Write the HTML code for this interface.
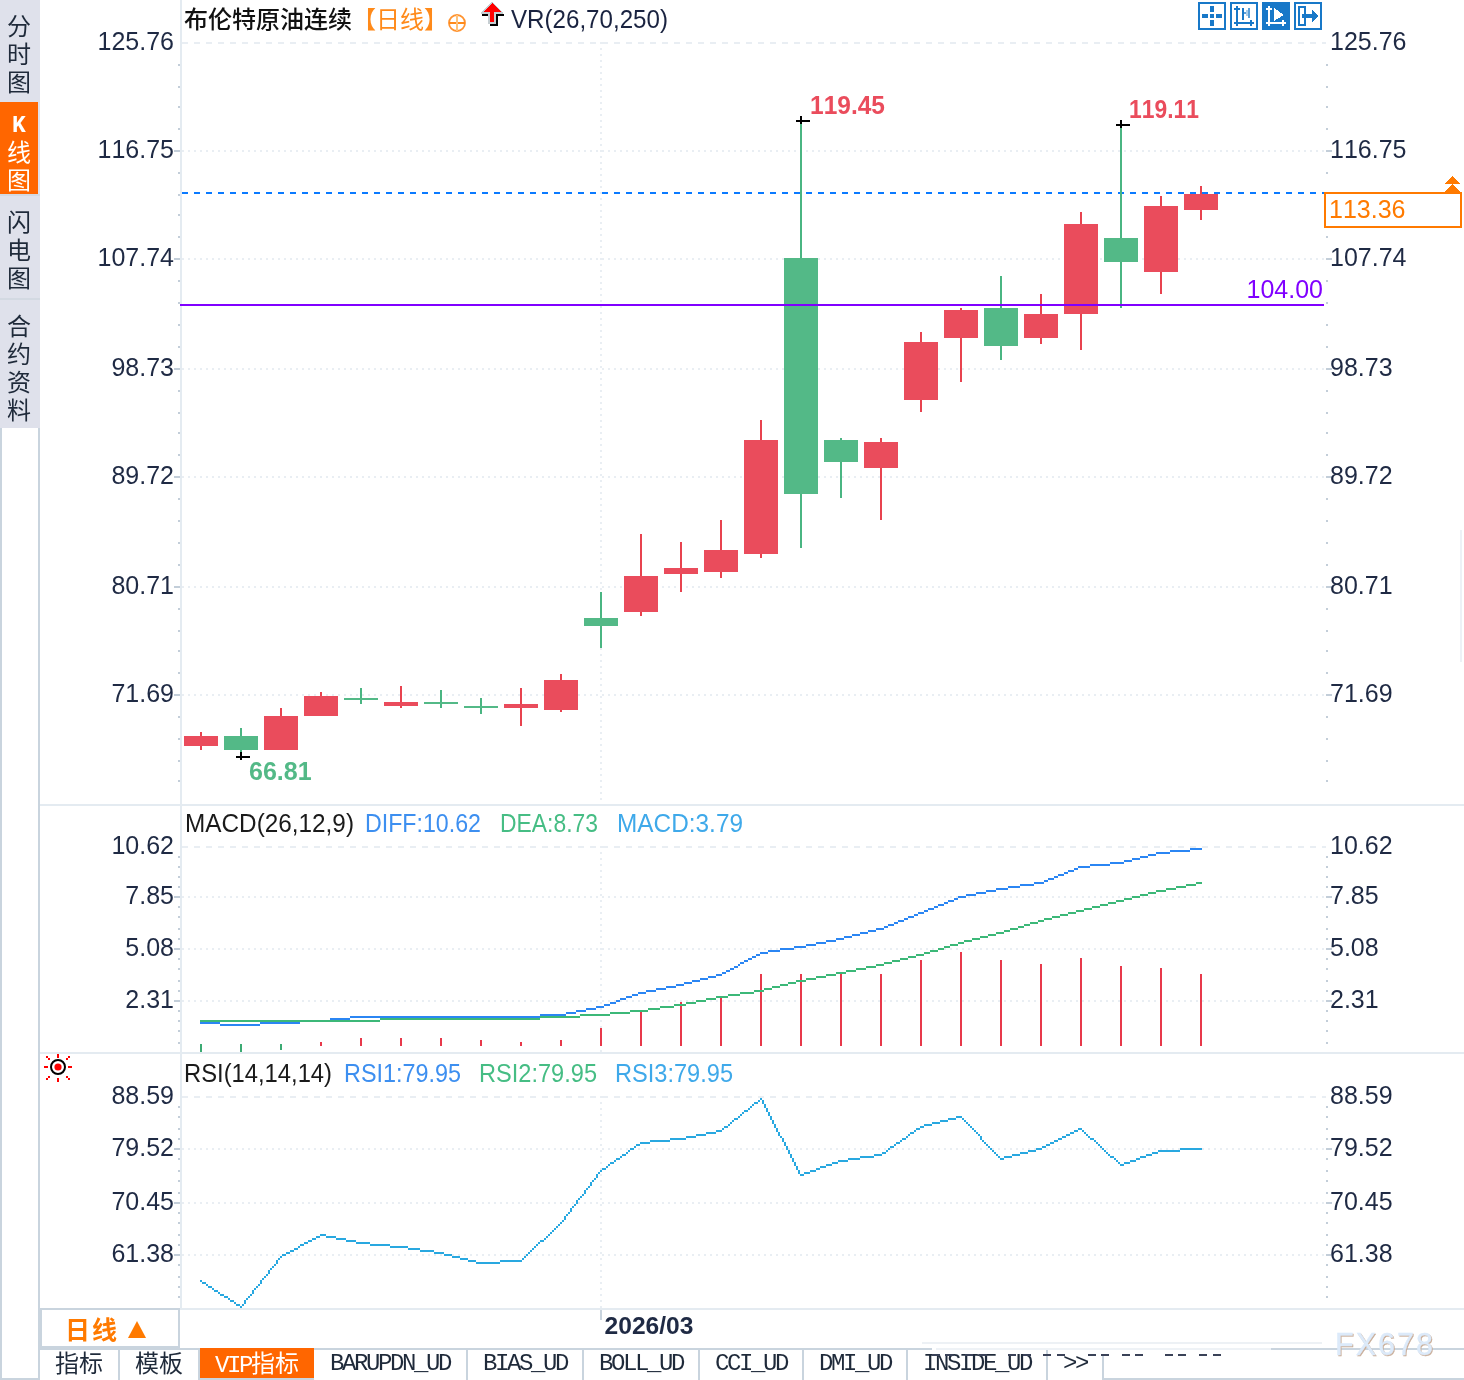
<!DOCTYPE html>
<html lang="zh-CN">
<head>
<meta charset="utf-8">
<title>布伦特原油连续 日线</title>
<style>
html,body{margin:0;padding:0;}
body{width:1464px;height:1380px;position:relative;overflow:hidden;background:#fff;
 font-family:"Liberation Sans","Noto Sans CJK SC",sans-serif;color:#1f2a44;}
#side{position:absolute;left:0;top:0;width:40px;height:1380px;}
#side .grey{position:absolute;left:0;top:0;width:40px;height:428px;background:#dfe1eb;}
#side .blank{position:absolute;left:0;top:428px;width:36px;height:950px;border:2px solid #c9d4de;border-top:none;background:#fff;}
#side .item{position:absolute;left:0;width:38px;text-align:center;font-size:24px;line-height:28px;color:#1f2a3a;}
#side .item span{display:block;height:28px;}
#side .sel{background:#ff6600;color:#fff;}
#side .hr{position:absolute;left:0;width:40px;height:2px;background:#d3d9e2;}
#chart{position:absolute;left:0;top:0;}
#chart text{font-family:"Liberation Sans","Noto Sans CJK SC",sans-serif;font-kerning:none;}
#period{position:absolute;left:40px;top:1308px;width:136px;height:36px;border:2px solid #c9d4de;background:#fff;
 color:#ff7a00;font-weight:bold;font-size:25px;line-height:36px;}
#period .t{position:absolute;left:23px;top:2px;letter-spacing:2px;}
#period .tri{position:absolute;left:86px;top:11px;width:0;height:0;border-left:9px solid transparent;border-right:9px solid transparent;border-bottom:17px solid #ff7a00;}
#tabs{position:absolute;left:40px;top:1348px;height:32px;width:1424px;border-top:2px solid #c9d4de;box-sizing:border-box;}
#tabs .tab{position:absolute;top:0;height:30px;box-sizing:border-box;border-right:2px solid #c9d4de;
 font-size:24px;line-height:28px;text-align:center;color:#1f2a3a;white-space:nowrap;}
#tabs .mono{font-family:"Liberation Mono","Noto Sans CJK SC",monospace;font-size:24px;letter-spacing:-2.4px;line-height:28px;}
#tabs .on{background:#ff6600;color:#fff;top:-2px;height:31px;border-right:none;line-height:32px;}
#tabs .box{position:absolute;left:1062px;top:4px;width:364px;height:24px;border-left:2px solid #c9d4de;border-bottom:2px solid #c9d4de;}
#tabs .bl{position:absolute;left:160px;top:28px;width:114px;height:2px;background:#c9d4de;}
</style>
</head>
<body>
<div id="side">
  <div class="grey"></div>
  <div class="item" style="top:13px"><span>分</span><span>时</span><span>图</span></div>
  <div class="item sel" style="top:102px;height:92px;"><span style="height:10px"></span><span style="font-family:'Liberation Mono',monospace;font-weight:bold;font-size:23px;height:27px">K</span><span>线</span><span>图</span></div>
  <div class="hr" style="top:194px"></div>
  <div class="item" style="top:209px"><span>闪</span><span>电</span><span>图</span></div>
  <div class="hr" style="top:298px"></div>
  <div class="item" style="top:313px"><span>合</span><span>约</span><span>资</span><span>料</span></div>
  <div class="blank"></div>
</div>
<svg id="chart" width="1464" height="1380" viewBox="0 0 1464 1380">
<g shape-rendering="crispEdges">
<rect x="180" y="0" width="2" height="1309" fill="#e4ebf1"/>
<rect x="40" y="804" width="1424" height="2" fill="#e4ebf1"/>
<rect x="40" y="1052" width="1424" height="2" fill="#e4ebf1"/>
<rect x="180" y="1308" width="1284" height="2" fill="#e4ebf1"/>
<rect x="922" y="1342" width="400" height="2" fill="#edf1f5"/>
<rect x="1460" y="530" width="2" height="132" fill="#edf1f6"/>
<line x1="182" y1="43" x2="1326" y2="43" stroke="#e9eef3" stroke-width="2" stroke-dasharray="6 6"/>
<line x1="182" y1="151" x2="1326" y2="151" stroke="#e9eef3" stroke-width="2" stroke-dasharray="2 4"/>
<line x1="182" y1="259" x2="1326" y2="259" stroke="#e9eef3" stroke-width="2" stroke-dasharray="2 4"/>
<line x1="182" y1="369" x2="1326" y2="369" stroke="#e9eef3" stroke-width="2" stroke-dasharray="2 4"/>
<line x1="182" y1="477" x2="1326" y2="477" stroke="#e9eef3" stroke-width="2" stroke-dasharray="2 4"/>
<line x1="182" y1="587" x2="1326" y2="587" stroke="#e9eef3" stroke-width="2" stroke-dasharray="2 4"/>
<line x1="182" y1="695" x2="1326" y2="695" stroke="#e9eef3" stroke-width="2" stroke-dasharray="2 4"/>
<line x1="182" y1="847" x2="1326" y2="847" stroke="#e9eef3" stroke-width="2" stroke-dasharray="6 6"/>
<line x1="182" y1="897" x2="1326" y2="897" stroke="#e9eef3" stroke-width="2" stroke-dasharray="2 4"/>
<line x1="182" y1="949" x2="1326" y2="949" stroke="#e9eef3" stroke-width="2" stroke-dasharray="2 4"/>
<line x1="182" y1="1001" x2="1326" y2="1001" stroke="#e9eef3" stroke-width="2" stroke-dasharray="2 4"/>
<line x1="182" y1="1097" x2="1326" y2="1097" stroke="#e9eef3" stroke-width="2" stroke-dasharray="6 6"/>
<line x1="182" y1="1149" x2="1326" y2="1149" stroke="#e9eef3" stroke-width="2" stroke-dasharray="2 4"/>
<line x1="182" y1="1203" x2="1326" y2="1203" stroke="#e9eef3" stroke-width="2" stroke-dasharray="2 4"/>
<line x1="182" y1="1255" x2="1326" y2="1255" stroke="#e9eef3" stroke-width="2" stroke-dasharray="2 4"/>
<line x1="601" y1="42" x2="601" y2="802" stroke="#e9eef3" stroke-width="2" stroke-dasharray="2 4"/>
<line x1="601" y1="846" x2="601" y2="1052" stroke="#e9eef3" stroke-width="2" stroke-dasharray="2 4"/>
<line x1="601" y1="1096" x2="601" y2="1308" stroke="#e9eef3" stroke-width="2" stroke-dasharray="2 4"/>
<rect x="600" y="1310" width="2" height="10" fill="#c9d4de"/>
<rect x="178" y="64" width="2" height="2" fill="#c3ced9"/>
<rect x="1326" y="64" width="2" height="2" fill="#c3ced9"/>
<rect x="178" y="86" width="2" height="2" fill="#c3ced9"/>
<rect x="1326" y="86" width="2" height="2" fill="#c3ced9"/>
<rect x="178" y="106" width="2" height="2" fill="#c3ced9"/>
<rect x="1326" y="106" width="2" height="2" fill="#c3ced9"/>
<rect x="178" y="128" width="2" height="2" fill="#c3ced9"/>
<rect x="1326" y="128" width="2" height="2" fill="#c3ced9"/>
<rect x="178" y="172" width="2" height="2" fill="#c3ced9"/>
<rect x="1326" y="172" width="2" height="2" fill="#c3ced9"/>
<rect x="178" y="194" width="2" height="2" fill="#c3ced9"/>
<rect x="1326" y="194" width="2" height="2" fill="#c3ced9"/>
<rect x="178" y="214" width="2" height="2" fill="#c3ced9"/>
<rect x="1326" y="214" width="2" height="2" fill="#c3ced9"/>
<rect x="178" y="236" width="2" height="2" fill="#c3ced9"/>
<rect x="1326" y="236" width="2" height="2" fill="#c3ced9"/>
<rect x="178" y="280" width="2" height="2" fill="#c3ced9"/>
<rect x="1326" y="280" width="2" height="2" fill="#c3ced9"/>
<rect x="178" y="302" width="2" height="2" fill="#c3ced9"/>
<rect x="1326" y="302" width="2" height="2" fill="#c3ced9"/>
<rect x="178" y="324" width="2" height="2" fill="#c3ced9"/>
<rect x="1326" y="324" width="2" height="2" fill="#c3ced9"/>
<rect x="178" y="346" width="2" height="2" fill="#c3ced9"/>
<rect x="1326" y="346" width="2" height="2" fill="#c3ced9"/>
<rect x="178" y="390" width="2" height="2" fill="#c3ced9"/>
<rect x="1326" y="390" width="2" height="2" fill="#c3ced9"/>
<rect x="178" y="412" width="2" height="2" fill="#c3ced9"/>
<rect x="1326" y="412" width="2" height="2" fill="#c3ced9"/>
<rect x="178" y="432" width="2" height="2" fill="#c3ced9"/>
<rect x="1326" y="432" width="2" height="2" fill="#c3ced9"/>
<rect x="178" y="454" width="2" height="2" fill="#c3ced9"/>
<rect x="1326" y="454" width="2" height="2" fill="#c3ced9"/>
<rect x="178" y="498" width="2" height="2" fill="#c3ced9"/>
<rect x="1326" y="498" width="2" height="2" fill="#c3ced9"/>
<rect x="178" y="520" width="2" height="2" fill="#c3ced9"/>
<rect x="1326" y="520" width="2" height="2" fill="#c3ced9"/>
<rect x="178" y="542" width="2" height="2" fill="#c3ced9"/>
<rect x="1326" y="542" width="2" height="2" fill="#c3ced9"/>
<rect x="178" y="564" width="2" height="2" fill="#c3ced9"/>
<rect x="1326" y="564" width="2" height="2" fill="#c3ced9"/>
<rect x="178" y="608" width="2" height="2" fill="#c3ced9"/>
<rect x="1326" y="608" width="2" height="2" fill="#c3ced9"/>
<rect x="178" y="630" width="2" height="2" fill="#c3ced9"/>
<rect x="1326" y="630" width="2" height="2" fill="#c3ced9"/>
<rect x="178" y="650" width="2" height="2" fill="#c3ced9"/>
<rect x="1326" y="650" width="2" height="2" fill="#c3ced9"/>
<rect x="178" y="672" width="2" height="2" fill="#c3ced9"/>
<rect x="1326" y="672" width="2" height="2" fill="#c3ced9"/>
<rect x="178" y="716" width="2" height="2" fill="#c3ced9"/>
<rect x="1326" y="716" width="2" height="2" fill="#c3ced9"/>
<rect x="178" y="738" width="2" height="2" fill="#c3ced9"/>
<rect x="1326" y="738" width="2" height="2" fill="#c3ced9"/>
<rect x="178" y="760" width="2" height="2" fill="#c3ced9"/>
<rect x="1326" y="760" width="2" height="2" fill="#c3ced9"/>
<rect x="178" y="780" width="2" height="2" fill="#c3ced9"/>
<rect x="1326" y="780" width="2" height="2" fill="#c3ced9"/>
<rect x="174" y="150" width="6" height="2" fill="#c3ced9"/>
<rect x="1326" y="150" width="6" height="2" fill="#c3ced9"/>
<rect x="174" y="258" width="6" height="2" fill="#c3ced9"/>
<rect x="1326" y="258" width="6" height="2" fill="#c3ced9"/>
<rect x="174" y="368" width="6" height="2" fill="#c3ced9"/>
<rect x="1326" y="368" width="6" height="2" fill="#c3ced9"/>
<rect x="174" y="476" width="6" height="2" fill="#c3ced9"/>
<rect x="1326" y="476" width="6" height="2" fill="#c3ced9"/>
<rect x="174" y="586" width="6" height="2" fill="#c3ced9"/>
<rect x="1326" y="586" width="6" height="2" fill="#c3ced9"/>
<rect x="174" y="694" width="6" height="2" fill="#c3ced9"/>
<rect x="1326" y="694" width="6" height="2" fill="#c3ced9"/>
<rect x="178" y="856" width="2" height="2" fill="#c3ced9"/>
<rect x="1326" y="856" width="2" height="2" fill="#c3ced9"/>
<rect x="178" y="866" width="2" height="2" fill="#c3ced9"/>
<rect x="1326" y="866" width="2" height="2" fill="#c3ced9"/>
<rect x="178" y="876" width="2" height="2" fill="#c3ced9"/>
<rect x="1326" y="876" width="2" height="2" fill="#c3ced9"/>
<rect x="178" y="886" width="2" height="2" fill="#c3ced9"/>
<rect x="1326" y="886" width="2" height="2" fill="#c3ced9"/>
<rect x="178" y="906" width="2" height="2" fill="#c3ced9"/>
<rect x="1326" y="906" width="2" height="2" fill="#c3ced9"/>
<rect x="178" y="916" width="2" height="2" fill="#c3ced9"/>
<rect x="1326" y="916" width="2" height="2" fill="#c3ced9"/>
<rect x="178" y="928" width="2" height="2" fill="#c3ced9"/>
<rect x="1326" y="928" width="2" height="2" fill="#c3ced9"/>
<rect x="178" y="938" width="2" height="2" fill="#c3ced9"/>
<rect x="1326" y="938" width="2" height="2" fill="#c3ced9"/>
<rect x="178" y="958" width="2" height="2" fill="#c3ced9"/>
<rect x="1326" y="958" width="2" height="2" fill="#c3ced9"/>
<rect x="178" y="968" width="2" height="2" fill="#c3ced9"/>
<rect x="1326" y="968" width="2" height="2" fill="#c3ced9"/>
<rect x="178" y="980" width="2" height="2" fill="#c3ced9"/>
<rect x="1326" y="980" width="2" height="2" fill="#c3ced9"/>
<rect x="178" y="990" width="2" height="2" fill="#c3ced9"/>
<rect x="1326" y="990" width="2" height="2" fill="#c3ced9"/>
<rect x="178" y="1010" width="2" height="2" fill="#c3ced9"/>
<rect x="1326" y="1010" width="2" height="2" fill="#c3ced9"/>
<rect x="178" y="1020" width="2" height="2" fill="#c3ced9"/>
<rect x="1326" y="1020" width="2" height="2" fill="#c3ced9"/>
<rect x="178" y="1030" width="2" height="2" fill="#c3ced9"/>
<rect x="1326" y="1030" width="2" height="2" fill="#c3ced9"/>
<rect x="178" y="1042" width="2" height="2" fill="#c3ced9"/>
<rect x="1326" y="1042" width="2" height="2" fill="#c3ced9"/>
<rect x="174" y="896" width="6" height="2" fill="#c3ced9"/>
<rect x="1326" y="896" width="6" height="2" fill="#c3ced9"/>
<rect x="174" y="948" width="6" height="2" fill="#c3ced9"/>
<rect x="1326" y="948" width="6" height="2" fill="#c3ced9"/>
<rect x="174" y="1000" width="6" height="2" fill="#c3ced9"/>
<rect x="1326" y="1000" width="6" height="2" fill="#c3ced9"/>
<rect x="178" y="1106" width="2" height="2" fill="#c3ced9"/>
<rect x="1326" y="1106" width="2" height="2" fill="#c3ced9"/>
<rect x="178" y="1116" width="2" height="2" fill="#c3ced9"/>
<rect x="1326" y="1116" width="2" height="2" fill="#c3ced9"/>
<rect x="178" y="1128" width="2" height="2" fill="#c3ced9"/>
<rect x="1326" y="1128" width="2" height="2" fill="#c3ced9"/>
<rect x="178" y="1138" width="2" height="2" fill="#c3ced9"/>
<rect x="1326" y="1138" width="2" height="2" fill="#c3ced9"/>
<rect x="178" y="1158" width="2" height="2" fill="#c3ced9"/>
<rect x="1326" y="1158" width="2" height="2" fill="#c3ced9"/>
<rect x="178" y="1170" width="2" height="2" fill="#c3ced9"/>
<rect x="1326" y="1170" width="2" height="2" fill="#c3ced9"/>
<rect x="178" y="1180" width="2" height="2" fill="#c3ced9"/>
<rect x="1326" y="1180" width="2" height="2" fill="#c3ced9"/>
<rect x="178" y="1192" width="2" height="2" fill="#c3ced9"/>
<rect x="1326" y="1192" width="2" height="2" fill="#c3ced9"/>
<rect x="178" y="1212" width="2" height="2" fill="#c3ced9"/>
<rect x="1326" y="1212" width="2" height="2" fill="#c3ced9"/>
<rect x="178" y="1222" width="2" height="2" fill="#c3ced9"/>
<rect x="1326" y="1222" width="2" height="2" fill="#c3ced9"/>
<rect x="178" y="1234" width="2" height="2" fill="#c3ced9"/>
<rect x="1326" y="1234" width="2" height="2" fill="#c3ced9"/>
<rect x="178" y="1244" width="2" height="2" fill="#c3ced9"/>
<rect x="1326" y="1244" width="2" height="2" fill="#c3ced9"/>
<rect x="178" y="1264" width="2" height="2" fill="#c3ced9"/>
<rect x="1326" y="1264" width="2" height="2" fill="#c3ced9"/>
<rect x="178" y="1276" width="2" height="2" fill="#c3ced9"/>
<rect x="1326" y="1276" width="2" height="2" fill="#c3ced9"/>
<rect x="178" y="1286" width="2" height="2" fill="#c3ced9"/>
<rect x="1326" y="1286" width="2" height="2" fill="#c3ced9"/>
<rect x="178" y="1296" width="2" height="2" fill="#c3ced9"/>
<rect x="1326" y="1296" width="2" height="2" fill="#c3ced9"/>
<rect x="174" y="1148" width="6" height="2" fill="#c3ced9"/>
<rect x="1326" y="1148" width="6" height="2" fill="#c3ced9"/>
<rect x="174" y="1202" width="6" height="2" fill="#c3ced9"/>
<rect x="1326" y="1202" width="6" height="2" fill="#c3ced9"/>
<rect x="174" y="1254" width="6" height="2" fill="#c3ced9"/>
<rect x="1326" y="1254" width="6" height="2" fill="#c3ced9"/>
<line x1="182" y1="193" x2="1324" y2="193" stroke="#0a7aff" stroke-width="2" stroke-dasharray="6 6"/>
<rect x="200" y="732" width="2" height="18" fill="#e8434f"/>
<rect x="184" y="736" width="34" height="10" fill="#ea4c5c"/>
<rect x="240" y="728" width="2" height="24" fill="#4ab582"/>
<rect x="224" y="736" width="34" height="14" fill="#53b987"/>
<rect x="280" y="708" width="2" height="42" fill="#e8434f"/>
<rect x="264" y="716" width="34" height="34" fill="#ea4c5c"/>
<rect x="320" y="692" width="2" height="24" fill="#e8434f"/>
<rect x="304" y="696" width="34" height="20" fill="#ea4c5c"/>
<rect x="360" y="688" width="2" height="16" fill="#4ab582"/>
<rect x="344" y="698" width="34" height="2" fill="#53b987"/>
<rect x="400" y="686" width="2" height="22" fill="#e8434f"/>
<rect x="384" y="702" width="34" height="4" fill="#ea4c5c"/>
<rect x="440" y="690" width="2" height="18" fill="#4ab582"/>
<rect x="424" y="702" width="34" height="2" fill="#53b987"/>
<rect x="480" y="698" width="2" height="16" fill="#4ab582"/>
<rect x="464" y="706" width="34" height="2" fill="#53b987"/>
<rect x="520" y="688" width="2" height="38" fill="#e8434f"/>
<rect x="504" y="704" width="34" height="4" fill="#ea4c5c"/>
<rect x="560" y="674" width="2" height="38" fill="#e8434f"/>
<rect x="544" y="680" width="34" height="30" fill="#ea4c5c"/>
<rect x="600" y="592" width="2" height="56" fill="#4ab582"/>
<rect x="584" y="618" width="34" height="8" fill="#53b987"/>
<rect x="640" y="534" width="2" height="82" fill="#e8434f"/>
<rect x="624" y="576" width="34" height="36" fill="#ea4c5c"/>
<rect x="680" y="542" width="2" height="50" fill="#e8434f"/>
<rect x="664" y="568" width="34" height="6" fill="#ea4c5c"/>
<rect x="720" y="520" width="2" height="58" fill="#e8434f"/>
<rect x="704" y="550" width="34" height="22" fill="#ea4c5c"/>
<rect x="760" y="420" width="2" height="138" fill="#e8434f"/>
<rect x="744" y="440" width="34" height="114" fill="#ea4c5c"/>
<rect x="800" y="122" width="2" height="426" fill="#4ab582"/>
<rect x="784" y="258" width="34" height="236" fill="#53b987"/>
<rect x="840" y="438" width="2" height="60" fill="#4ab582"/>
<rect x="824" y="440" width="34" height="22" fill="#53b987"/>
<rect x="880" y="438" width="2" height="82" fill="#e8434f"/>
<rect x="864" y="442" width="34" height="26" fill="#ea4c5c"/>
<rect x="920" y="332" width="2" height="80" fill="#e8434f"/>
<rect x="904" y="342" width="34" height="58" fill="#ea4c5c"/>
<rect x="960" y="308" width="2" height="74" fill="#e8434f"/>
<rect x="944" y="310" width="34" height="28" fill="#ea4c5c"/>
<rect x="1000" y="276" width="2" height="84" fill="#4ab582"/>
<rect x="984" y="308" width="34" height="38" fill="#53b987"/>
<rect x="1040" y="294" width="2" height="50" fill="#e8434f"/>
<rect x="1024" y="314" width="34" height="24" fill="#ea4c5c"/>
<rect x="1080" y="212" width="2" height="138" fill="#e8434f"/>
<rect x="1064" y="224" width="34" height="90" fill="#ea4c5c"/>
<rect x="1120" y="126" width="2" height="182" fill="#4ab582"/>
<rect x="1104" y="238" width="34" height="24" fill="#53b987"/>
<rect x="1160" y="196" width="2" height="98" fill="#e8434f"/>
<rect x="1144" y="206" width="34" height="66" fill="#ea4c5c"/>
<rect x="1200" y="186" width="2" height="34" fill="#e8434f"/>
<rect x="1184" y="194" width="34" height="16" fill="#ea4c5c"/>
<rect x="180" y="304" width="1144" height="2" fill="#8000ff"/>
<rect x="796" y="120" width="14" height="2" fill="#000"/>
<rect x="800" y="116" width="2" height="8" fill="#000"/>
<rect x="1116" y="124" width="14" height="2" fill="#000"/>
<rect x="1120" y="120" width="2" height="8" fill="#000"/>
<rect x="236" y="756" width="14" height="2" fill="#000"/>
<rect x="240" y="752" width="2" height="8" fill="#000"/>
<rect x="200" y="1044" width="2" height="8" fill="#3cab74"/>
<rect x="240" y="1044" width="2" height="8" fill="#3cab74"/>
<rect x="280" y="1044" width="2" height="6" fill="#3cab74"/>
<rect x="320" y="1042" width="2" height="4" fill="#e8394b"/>
<rect x="360" y="1038" width="2" height="8" fill="#e8394b"/>
<rect x="400" y="1038" width="2" height="8" fill="#e8394b"/>
<rect x="440" y="1038" width="2" height="8" fill="#e8394b"/>
<rect x="480" y="1040" width="2" height="6" fill="#e8394b"/>
<rect x="520" y="1042" width="2" height="4" fill="#e8394b"/>
<rect x="560" y="1040" width="2" height="6" fill="#e8394b"/>
<rect x="600" y="1028" width="2" height="18" fill="#e8394b"/>
<rect x="640" y="1010" width="2" height="36" fill="#e8394b"/>
<rect x="680" y="1002" width="2" height="44" fill="#e8394b"/>
<rect x="720" y="996" width="2" height="50" fill="#e8394b"/>
<rect x="760" y="974" width="2" height="72" fill="#e8394b"/>
<rect x="800" y="974" width="2" height="72" fill="#e8394b"/>
<rect x="840" y="974" width="2" height="72" fill="#e8394b"/>
<rect x="880" y="974" width="2" height="72" fill="#e8394b"/>
<rect x="920" y="960" width="2" height="86" fill="#e8394b"/>
<rect x="960" y="952" width="2" height="94" fill="#e8394b"/>
<rect x="1000" y="960" width="2" height="86" fill="#e8394b"/>
<rect x="1040" y="964" width="2" height="82" fill="#e8394b"/>
<rect x="1080" y="958" width="2" height="88" fill="#e8394b"/>
<rect x="1120" y="966" width="2" height="80" fill="#e8394b"/>
<rect x="1160" y="968" width="2" height="78" fill="#e8394b"/>
<rect x="1200" y="974" width="2" height="72" fill="#e8394b"/>
<path d="M1190 848h12v2h-12zM1170 850h20v2h-20zM1156 852h14v2h-14zM1148 854h8v2h-8zM1140 856h8v2h-8zM1132 858h8v2h-8zM1124 860h8v2h-8zM1110 862h14v2h-14zM1090 864h20v2h-20zM1078 866h12v2h-12zM1074 868h4v2h-4zM1068 870h6v2h-6zM1064 872h4v2h-4zM1058 874h6v2h-6zM1054 876h4v2h-4zM1048 878h6v2h-6zM1044 880h4v2h-4zM1034 882h10v2h-10zM1020 884h14v2h-14zM1008 886h12v2h-12zM996 888h12v2h-12zM986 890h10v2h-10zM976 892h10v2h-10zM966 894h10v2h-10zM958 896h8v2h-8zM954 898h4v2h-4zM948 900h6v2h-6zM944 902h4v2h-4zM938 904h6v2h-6zM934 906h4v2h-4zM928 908h6v2h-6zM924 910h4v2h-4zM918 912h6v2h-6zM914 914h4v2h-4zM908 916h6v2h-6zM904 918h4v2h-4zM898 920h6v2h-6zM894 922h4v2h-4zM888 924h6v2h-6zM884 926h4v2h-4zM876 928h8v2h-8zM868 930h8v2h-8zM860 932h8v2h-8zM852 934h8v2h-8zM844 936h8v2h-8zM836 938h8v2h-8zM826 940h10v2h-10zM816 942h10v2h-10zM806 944h10v2h-10zM794 946h12v2h-12zM780 948h14v2h-14zM768 950h12v2h-12zM760 952h8v2h-8zM756 954h4v2h-4zM752 956h4v2h-4zM748 958h4v2h-4zM744 960h4v2h-4zM740 962h4v2h-4zM738 964h2v2h-2zM734 966h4v2h-4zM730 968h4v2h-4zM726 970h4v2h-4zM722 972h4v2h-4zM716 974h6v2h-6zM708 976h8v2h-8zM700 978h8v2h-8zM692 980h8v2h-8zM684 982h8v2h-8zM676 984h8v2h-8zM666 986h10v2h-10zM656 988h10v2h-10zM646 990h10v2h-10zM638 992h8v2h-8zM632 994h6v2h-6zM626 996h6v2h-6zM620 998h6v2h-6zM616 1000h4v2h-4zM610 1002h6v2h-6zM604 1004h6v2h-6zM596 1006h8v2h-8zM586 1008h10v2h-10zM576 1010h10v2h-10zM566 1012h10v2h-10zM540 1014h26v2h-26zM350 1016h190v2h-190zM330 1018h20v2h-20zM300 1020h30v2h-30zM200 1022h20v2h-20zM260 1022h40v2h-40zM220 1024h40v2h-40z" fill="#2b86f3"/>
<path d="M1196 882h6v2h-6zM1186 884h10v2h-10zM1176 886h10v2h-10zM1166 888h10v2h-10zM1156 890h10v2h-10zM1148 892h8v2h-8zM1140 894h8v2h-8zM1132 896h8v2h-8zM1124 898h8v2h-8zM1116 900h8v2h-8zM1108 902h8v2h-8zM1100 904h8v2h-8zM1092 906h8v2h-8zM1084 908h8v2h-8zM1076 910h8v2h-8zM1068 912h8v2h-8zM1060 914h8v2h-8zM1052 916h8v2h-8zM1044 918h8v2h-8zM1038 920h6v2h-6zM1030 922h8v2h-8zM1024 924h6v2h-6zM1018 926h6v2h-6zM1010 928h8v2h-8zM1004 930h6v2h-6zM996 932h8v2h-8zM988 934h8v2h-8zM980 936h8v2h-8zM972 938h8v2h-8zM964 940h8v2h-8zM958 942h6v2h-6zM950 944h8v2h-8zM944 946h6v2h-6zM938 948h6v2h-6zM930 950h8v2h-8zM924 952h6v2h-6zM916 954h8v2h-8zM908 956h8v2h-8zM900 958h8v2h-8zM892 960h8v2h-8zM884 962h8v2h-8zM876 964h8v2h-8zM866 966h10v2h-10zM856 968h10v2h-10zM846 970h10v2h-10zM836 972h10v2h-10zM826 974h10v2h-10zM816 976h10v2h-10zM806 978h10v2h-10zM796 980h10v2h-10zM788 982h8v2h-8zM780 984h8v2h-8zM772 986h8v2h-8zM764 988h8v2h-8zM754 990h10v2h-10zM740 992h14v2h-14zM728 994h12v2h-12zM716 996h12v2h-12zM706 998h10v2h-10zM696 1000h10v2h-10zM686 1002h10v2h-10zM674 1004h12v2h-12zM660 1006h14v2h-14zM648 1008h12v2h-12zM630 1010h18v2h-18zM610 1012h20v2h-20zM580 1014h30v2h-30zM540 1016h40v2h-40zM380 1018h160v2h-160zM200 1020h180v2h-180z" fill="#3cb878"/>
<path d="M760 1098h2v2h-2zM758 1100h2v2h-2zM762 1100h2v2h-2zM754 1102h4v2h-4zM762 1102h2v2h-2zM752 1104h2v2h-2zM764 1104h2v2h-2zM750 1106h2v2h-2zM764 1106h2v2h-2zM748 1108h2v2h-2zM766 1108h2v2h-2zM744 1110h4v2h-4zM766 1110h2v2h-2zM742 1112h2v2h-2zM768 1112h2v2h-2zM740 1114h2v2h-2zM768 1114h2v2h-2zM738 1116h2v2h-2zM770 1116h2v2h-2zM956 1116h6v2h-6zM734 1118h4v2h-4zM770 1118h2v2h-2zM948 1118h8v2h-8zM962 1118h2v2h-2zM732 1120h2v2h-2zM772 1120h2v2h-2zM940 1120h8v2h-8zM964 1120h2v2h-2zM730 1122h2v2h-2zM772 1122h2v2h-2zM932 1122h8v2h-8zM966 1122h2v2h-2zM728 1124h2v2h-2zM774 1124h2v2h-2zM924 1124h8v2h-8zM968 1124h2v2h-2zM724 1126h4v2h-4zM774 1126h2v2h-2zM920 1126h4v2h-4zM970 1126h2v2h-2zM722 1128h2v2h-2zM776 1128h2v2h-2zM916 1128h4v2h-4zM972 1128h2v2h-2zM1078 1128h4v2h-4zM716 1130h6v2h-6zM776 1130h2v2h-2zM914 1130h2v2h-2zM974 1130h2v2h-2zM1074 1130h4v2h-4zM1082 1130h2v2h-2zM706 1132h10v2h-10zM778 1132h2v2h-2zM910 1132h4v2h-4zM976 1132h2v2h-2zM1070 1132h4v2h-4zM1084 1132h2v2h-2zM696 1134h10v2h-10zM778 1134h2v2h-2zM908 1134h2v2h-2zM978 1134h2v2h-2zM1066 1134h4v2h-4zM1086 1134h2v2h-2zM686 1136h10v2h-10zM780 1136h2v2h-2zM906 1136h2v2h-2zM980 1136h2v2h-2zM1062 1136h4v2h-4zM1088 1136h2v2h-2zM670 1138h16v2h-16zM782 1138h2v2h-2zM902 1138h4v2h-4zM980 1138h2v2h-2zM1058 1138h4v2h-4zM1090 1138h4v2h-4zM650 1140h20v2h-20zM782 1140h2v2h-2zM900 1140h2v2h-2zM982 1140h2v2h-2zM1054 1140h4v2h-4zM1094 1140h2v2h-2zM640 1142h10v2h-10zM784 1142h2v2h-2zM896 1142h4v2h-4zM984 1142h2v2h-2zM1050 1142h4v2h-4zM1096 1142h2v2h-2zM636 1144h4v2h-4zM784 1144h2v2h-2zM894 1144h2v2h-2zM986 1144h2v2h-2zM1046 1144h4v2h-4zM1098 1144h2v2h-2zM634 1146h2v2h-2zM786 1146h2v2h-2zM890 1146h4v2h-4zM988 1146h2v2h-2zM1042 1146h4v2h-4zM1100 1146h2v2h-2zM630 1148h4v2h-4zM786 1148h2v2h-2zM888 1148h2v2h-2zM990 1148h2v2h-2zM1036 1148h6v2h-6zM1102 1148h2v2h-2zM1180 1148h22v2h-22zM628 1150h2v2h-2zM788 1150h2v2h-2zM886 1150h2v2h-2zM992 1150h2v2h-2zM1028 1150h8v2h-8zM1104 1150h2v2h-2zM1158 1150h22v2h-22zM626 1152h2v2h-2zM788 1152h2v2h-2zM882 1152h4v2h-4zM994 1152h2v2h-2zM1020 1152h8v2h-8zM1106 1152h2v2h-2zM1152 1152h6v2h-6zM622 1154h4v2h-4zM790 1154h2v2h-2zM874 1154h8v2h-8zM996 1154h2v2h-2zM1012 1154h8v2h-8zM1108 1154h2v2h-2zM1146 1154h6v2h-6zM620 1156h2v2h-2zM790 1156h2v2h-2zM860 1156h14v2h-14zM998 1156h2v2h-2zM1004 1156h8v2h-8zM1110 1156h4v2h-4zM1140 1156h6v2h-6zM616 1158h4v2h-4zM792 1158h2v2h-2zM848 1158h12v2h-12zM1000 1158h4v2h-4zM1114 1158h2v2h-2zM1136 1158h4v2h-4zM614 1160h2v2h-2zM792 1160h2v2h-2zM838 1160h10v2h-10zM1116 1160h2v2h-2zM1130 1160h6v2h-6zM610 1162h4v2h-4zM794 1162h2v2h-2zM832 1162h6v2h-6zM1118 1162h2v2h-2zM1124 1162h6v2h-6zM608 1164h2v2h-2zM794 1164h2v2h-2zM826 1164h6v2h-6zM1120 1164h4v2h-4zM606 1166h2v2h-2zM796 1166h2v2h-2zM820 1166h6v2h-6zM602 1168h4v2h-4zM796 1168h2v2h-2zM816 1168h4v2h-4zM600 1170h2v2h-2zM798 1170h2v2h-2zM810 1170h6v2h-6zM598 1172h2v2h-2zM798 1172h2v2h-2zM804 1172h6v2h-6zM596 1174h2v2h-2zM800 1174h4v2h-4zM596 1176h2v2h-2zM594 1178h2v2h-2zM592 1180h2v2h-2zM590 1182h2v2h-2zM590 1184h2v2h-2zM588 1186h2v2h-2zM586 1188h2v2h-2zM584 1190h2v2h-2zM584 1192h2v2h-2zM582 1194h2v2h-2zM580 1196h2v2h-2zM578 1198h2v2h-2zM576 1200h2v2h-2zM576 1202h2v2h-2zM574 1204h2v2h-2zM572 1206h2v2h-2zM570 1208h2v2h-2zM570 1210h2v2h-2zM568 1212h2v2h-2zM566 1214h2v2h-2zM564 1216h2v2h-2zM564 1218h2v2h-2zM562 1220h2v2h-2zM560 1222h2v2h-2zM558 1224h2v2h-2zM556 1226h2v2h-2zM554 1228h2v2h-2zM552 1230h2v2h-2zM550 1232h2v2h-2zM320 1234h6v2h-6zM548 1234h2v2h-2zM316 1236h4v2h-4zM326 1236h10v2h-10zM546 1236h2v2h-2zM312 1238h4v2h-4zM336 1238h10v2h-10zM544 1238h2v2h-2zM308 1240h4v2h-4zM346 1240h10v2h-10zM540 1240h4v2h-4zM304 1242h4v2h-4zM356 1242h14v2h-14zM538 1242h2v2h-2zM300 1244h4v2h-4zM370 1244h20v2h-20zM536 1244h2v2h-2zM298 1246h2v2h-2zM390 1246h18v2h-18zM534 1246h2v2h-2zM294 1248h4v2h-4zM408 1248h12v2h-12zM532 1248h2v2h-2zM290 1250h4v2h-4zM420 1250h14v2h-14zM530 1250h2v2h-2zM286 1252h4v2h-4zM434 1252h10v2h-10zM528 1252h2v2h-2zM282 1254h4v2h-4zM444 1254h8v2h-8zM526 1254h2v2h-2zM280 1256h2v2h-2zM452 1256h8v2h-8zM524 1256h2v2h-2zM278 1258h2v2h-2zM460 1258h8v2h-8zM522 1258h2v2h-2zM276 1260h2v2h-2zM468 1260h8v2h-8zM500 1260h22v2h-22zM276 1262h2v2h-2zM476 1262h24v2h-24zM274 1264h2v2h-2zM272 1266h2v2h-2zM270 1268h2v2h-2zM268 1270h2v2h-2zM268 1272h2v2h-2zM266 1274h2v2h-2zM264 1276h2v2h-2zM262 1278h2v2h-2zM200 1280h2v2h-2zM260 1280h2v2h-2zM202 1282h4v2h-4zM260 1282h2v2h-2zM206 1284h2v2h-2zM258 1284h2v2h-2zM208 1286h4v2h-4zM256 1286h2v2h-2zM212 1288h2v2h-2zM254 1288h2v2h-2zM214 1290h4v2h-4zM252 1290h2v2h-2zM218 1292h2v2h-2zM252 1292h2v2h-2zM220 1294h4v2h-4zM250 1294h2v2h-2zM224 1296h4v2h-4zM248 1296h2v2h-2zM228 1298h2v2h-2zM246 1298h2v2h-2zM230 1300h4v2h-4zM244 1300h2v2h-2zM234 1302h2v2h-2zM244 1302h2v2h-2zM236 1304h4v2h-4zM242 1304h2v2h-2zM240 1306h2v2h-2z" fill="#29a8e0"/>
<rect x="1325" y="193" width="136" height="34" fill="#fff" stroke="#ff7a00" stroke-width="2"/>
<polygon points="1452,176 1460,184 1444,184" fill="#ff7a00"/>
<polygon points="1452,184 1460,192 1444,192" fill="#ff7a00"/>
<rect x="1199" y="3" width="26" height="26" fill="#fff" stroke="#1878c8" stroke-width="2"/>
<rect x="1231" y="3" width="26" height="26" fill="#fff" stroke="#1878c8" stroke-width="2"/>
<rect x="1263" y="3" width="26" height="26" fill="#1878c8" stroke="#1878c8" stroke-width="2"/>
<rect x="1295" y="3" width="26" height="26" fill="#fff" stroke="#1878c8" stroke-width="2"/>
<rect x="1210" y="6" width="4" height="6" fill="#1878c8"/>
<rect x="1210" y="20" width="4" height="6" fill="#1878c8"/>
<rect x="1210" y="14" width="4" height="4" fill="#1878c8"/>
<rect x="1202" y="14" width="6" height="4" fill="#1878c8"/>
<rect x="1216" y="14" width="6" height="4" fill="#1878c8"/>
<rect x="1236" y="6" width="2" height="20" fill="#1878c8"/>
<rect x="1234" y="22" width="20" height="2" fill="#1878c8"/>
<rect x="1234" y="8" width="6" height="2" fill="#1878c8"/>
<rect x="1242" y="8" width="2" height="12" fill="#1878c8"/>
<rect x="1250" y="20" width="2" height="6" fill="#1878c8"/>
<rect x="1244" y="12" width="4" height="2" fill="#5a9fd8"/>
<rect x="1248" y="8" width="2" height="10" fill="#5a9fd8"/>
<rect x="1246" y="10" width="2" height="6" fill="#a9cdea"/>
<rect x="1268" y="6" width="2" height="20" fill="#fff"/>
<rect x="1266" y="22" width="20" height="2" fill="#fff"/>
<rect x="1266" y="8" width="6" height="2" fill="#fff"/>
<rect x="1282" y="20" width="2" height="6" fill="#fff"/>
<polygon points="1274,8 1284,15 1274,21" fill="#fff"/>
<rect x="1299" y="7" width="6" height="18" fill="none" stroke="#1878c8" stroke-width="2"/>
<rect x="1302" y="14" width="12" height="4" fill="#1878c8"/>
<polygon points="1312,10 1319,16 1312,22" fill="#1878c8"/>
<circle cx="457" cy="23" r="8" fill="none" stroke="#ff9330" stroke-width="1.8" shape-rendering="auto"/>
<rect x="449" y="22" width="16" height="2" fill="#ff8a1a"/>
<rect x="456" y="15" width="2" height="16" fill="#ffc27a"/>
<polygon points="492,1 503,13 503,14 496,14 496,24 488,24 488,14 481,14 481,13" fill="#c6ced2"/>
<rect x="482" y="14" width="6" height="2" fill="#000"/>
<rect x="496" y="14" width="8" height="2" fill="#000"/>
<rect x="496" y="14" width="2" height="12" fill="#000"/>
<rect x="490" y="24" width="8" height="2" fill="#000"/>
<polygon points="492,3 501,12 483,12" fill="#ff0000"/>
<rect x="490" y="10" width="4" height="12" fill="#ff0000"/>
<circle cx="58" cy="1067" r="7" fill="#fff" stroke="#000" stroke-width="2" shape-rendering="auto"/>
<circle cx="58" cy="1067" r="3.6" fill="#ff0000" shape-rendering="auto"/>
<rect x="57" y="1054" width="2" height="4" fill="#ff0000"/>
<rect x="57" y="1078" width="2" height="4" fill="#ff0000"/>
<rect x="44" y="1066" width="4" height="2" fill="#ff0000"/>
<rect x="68" y="1066" width="4" height="2" fill="#ff0000"/>
<rect x="46" y="1056" width="2" height="2" fill="#ff0000"/>
<rect x="48" y="1058" width="2" height="2" fill="#ff0000"/>
<rect x="68" y="1056" width="2" height="2" fill="#ff0000"/>
<rect x="66" y="1058" width="2" height="2" fill="#ff0000"/>
<rect x="46" y="1078" width="2" height="2" fill="#ff0000"/>
<rect x="48" y="1076" width="2" height="2" fill="#ff0000"/>
<rect x="68" y="1078" width="2" height="2" fill="#ff0000"/>
<rect x="66" y="1076" width="2" height="2" fill="#ff0000"/>
</g>
<text x="174" y="50" text-anchor="end" fill="#1f2a44" font-size="25" font-weight="normal">125.76</text>
<text x="1330" y="50" text-anchor="start" fill="#1f2a44" font-size="25" font-weight="normal">125.76</text>
<text x="174" y="158" text-anchor="end" fill="#1f2a44" font-size="25" font-weight="normal">116.75</text>
<text x="1330" y="158" text-anchor="start" fill="#1f2a44" font-size="25" font-weight="normal">116.75</text>
<text x="174" y="266" text-anchor="end" fill="#1f2a44" font-size="25" font-weight="normal">107.74</text>
<text x="1330" y="266" text-anchor="start" fill="#1f2a44" font-size="25" font-weight="normal">107.74</text>
<text x="174" y="376" text-anchor="end" fill="#1f2a44" font-size="25" font-weight="normal">98.73</text>
<text x="1330" y="376" text-anchor="start" fill="#1f2a44" font-size="25" font-weight="normal">98.73</text>
<text x="174" y="484" text-anchor="end" fill="#1f2a44" font-size="25" font-weight="normal">89.72</text>
<text x="1330" y="484" text-anchor="start" fill="#1f2a44" font-size="25" font-weight="normal">89.72</text>
<text x="174" y="594" text-anchor="end" fill="#1f2a44" font-size="25" font-weight="normal">80.71</text>
<text x="1330" y="594" text-anchor="start" fill="#1f2a44" font-size="25" font-weight="normal">80.71</text>
<text x="174" y="702" text-anchor="end" fill="#1f2a44" font-size="25" font-weight="normal">71.69</text>
<text x="1330" y="702" text-anchor="start" fill="#1f2a44" font-size="25" font-weight="normal">71.69</text>
<text x="174" y="854" text-anchor="end" fill="#1f2a44" font-size="25" font-weight="normal">10.62</text>
<text x="1330" y="854" text-anchor="start" fill="#1f2a44" font-size="25" font-weight="normal">10.62</text>
<text x="174" y="904" text-anchor="end" fill="#1f2a44" font-size="25" font-weight="normal">7.85</text>
<text x="1330" y="904" text-anchor="start" fill="#1f2a44" font-size="25" font-weight="normal">7.85</text>
<text x="174" y="956" text-anchor="end" fill="#1f2a44" font-size="25" font-weight="normal">5.08</text>
<text x="1330" y="956" text-anchor="start" fill="#1f2a44" font-size="25" font-weight="normal">5.08</text>
<text x="174" y="1008" text-anchor="end" fill="#1f2a44" font-size="25" font-weight="normal">2.31</text>
<text x="1330" y="1008" text-anchor="start" fill="#1f2a44" font-size="25" font-weight="normal">2.31</text>
<text x="174" y="1104" text-anchor="end" fill="#1f2a44" font-size="25" font-weight="normal">88.59</text>
<text x="1330" y="1104" text-anchor="start" fill="#1f2a44" font-size="25" font-weight="normal">88.59</text>
<text x="174" y="1156" text-anchor="end" fill="#1f2a44" font-size="25" font-weight="normal">79.52</text>
<text x="1330" y="1156" text-anchor="start" fill="#1f2a44" font-size="25" font-weight="normal">79.52</text>
<text x="174" y="1210" text-anchor="end" fill="#1f2a44" font-size="25" font-weight="normal">70.45</text>
<text x="1330" y="1210" text-anchor="start" fill="#1f2a44" font-size="25" font-weight="normal">70.45</text>
<text x="174" y="1262" text-anchor="end" fill="#1f2a44" font-size="25" font-weight="normal">61.38</text>
<text x="1330" y="1262" text-anchor="start" fill="#1f2a44" font-size="25" font-weight="normal">61.38</text>
<text x="1329" y="218" text-anchor="start" fill="#ff7a00" font-size="25" font-weight="normal">113.36</text>
<text x="1323" y="298" text-anchor="end" fill="#8000ff" font-size="25" font-weight="normal">104.00</text>
<text x="810" y="114" text-anchor="start" fill="#ea4c5c" font-size="25" font-weight="bold" textLength="75" lengthAdjust="spacingAndGlyphs">119.45</text>
<text x="1129" y="118" text-anchor="start" fill="#ea4c5c" font-size="25" font-weight="bold" textLength="70" lengthAdjust="spacingAndGlyphs">119.11</text>
<text x="249" y="780" text-anchor="start" fill="#53b987" font-size="25" font-weight="bold">66.81</text>
<text x="184" y="28" font-size="24" fill="#111" font-weight="500" textLength="168">布伦特原油连续</text>
<text x="352" y="28" font-size="24" fill="#ff8a1a">【日线】</text>
<text x="511" y="28" text-anchor="start" fill="#1a2340" font-size="25" font-weight="normal" textLength="157" lengthAdjust="spacingAndGlyphs">VR(26,70,250)</text>
<text x="185" y="832" text-anchor="start" fill="#1a1a1a" font-size="25" font-weight="normal" textLength="169" lengthAdjust="spacingAndGlyphs">MACD(26,12,9)</text>
<text x="365" y="832" text-anchor="start" fill="#3d8ff0" font-size="25" font-weight="normal" textLength="116" lengthAdjust="spacingAndGlyphs">DIFF:10.62</text>
<text x="500" y="832" text-anchor="start" fill="#46bd84" font-size="25" font-weight="normal" textLength="98" lengthAdjust="spacingAndGlyphs">DEA:8.73</text>
<text x="617" y="832" text-anchor="start" fill="#3fa9ea" font-size="25" font-weight="normal" textLength="126" lengthAdjust="spacingAndGlyphs">MACD:3.79</text>
<text x="184" y="1082" text-anchor="start" fill="#1a1a1a" font-size="25" font-weight="normal" textLength="148" lengthAdjust="spacingAndGlyphs">RSI(14,14,14)</text>
<text x="344" y="1082" text-anchor="start" fill="#3d8ff0" font-size="25" font-weight="normal" textLength="117" lengthAdjust="spacingAndGlyphs">RSI1:79.95</text>
<text x="479" y="1082" text-anchor="start" fill="#46bd84" font-size="25" font-weight="normal" textLength="118" lengthAdjust="spacingAndGlyphs">RSI2:79.95</text>
<text x="615" y="1082" text-anchor="start" fill="#3fa9ea" font-size="25" font-weight="normal" textLength="118" lengthAdjust="spacingAndGlyphs">RSI3:79.95</text>
<text x="604.5" y="1334" text-anchor="start" fill="#1f2a44" font-size="24" font-weight="bold" textLength="89" lengthAdjust="spacingAndGlyphs">2026/03</text>
</svg>
<div id="period"><span class="t">日线</span><span class="tri"></span></div>
<div id="tabs">
  <div class="tab" style="left:0;width:80px">指标</div>
  <div class="tab" style="left:80px;width:80px">模板</div>
  <div class="tab on" style="left:160px;width:114px"><span style="font-family:'Liberation Mono',monospace;font-size:24px;letter-spacing:-2.4px">VIP</span>指标</div>
  <div class="tab mono" style="left:274px;width:154px">BARUPDN_UD</div>
  <div class="tab mono" style="left:428px;width:116px">BIAS_UD</div>
  <div class="tab mono" style="left:544px;width:116px">BOLL_UD</div>
  <div class="tab mono" style="left:660px;width:104px">CCI_UD</div>
  <div class="tab mono" style="left:764px;width:104px">DMI_UD</div>
  <div class="tab mono" style="left:868px;width:140px">INSIDE_UD</div>
  <div class="tab mono" style="left:1008px;width:54px;border-right:none">&gt;&gt;</div>
  <div class="box"></div>
  <div class="bl"></div>
</div>
<svg id="overlay" width="1464" height="1380" viewBox="0 0 1464 1380" shape-rendering="crispEdges" style="position:absolute;left:0;top:0;pointer-events:none">
<rect x="932" y="1348" width="4" height="2" fill="#fff"/>
<rect x="936" y="1348" width="335" height="2" fill="#eef2f6"/>
<rect x="932" y="1354" width="8" height="2" fill="#3a4258"/>
<rect x="945" y="1354" width="8" height="2" fill="#3a4258"/>
<rect x="965" y="1354" width="8" height="2" fill="#3a4258"/>
<rect x="979" y="1354" width="8" height="2" fill="#3a4258"/>
<rect x="1008" y="1354" width="8" height="2" fill="#3a4258"/>
<rect x="1023" y="1354" width="8" height="2" fill="#3a4258"/>
<rect x="1043" y="1354" width="8" height="2" fill="#3a4258"/>
<rect x="1057" y="1354" width="8" height="2" fill="#3a4258"/>
<rect x="1088" y="1354" width="8" height="2" fill="#3a4258"/>
<rect x="1101" y="1354" width="8" height="2" fill="#3a4258"/>
<rect x="1122" y="1354" width="8" height="2" fill="#3a4258"/>
<rect x="1135" y="1354" width="8" height="2" fill="#3a4258"/>
<rect x="1165" y="1354" width="8" height="2" fill="#3a4258"/>
<rect x="1178" y="1354" width="8" height="2" fill="#3a4258"/>
<rect x="1199" y="1354" width="8" height="2" fill="#3a4258"/>
<rect x="1213" y="1354" width="8" height="2" fill="#3a4258"/>
<text x="1336" y="1356.2" font-size="30.5" letter-spacing="2" fill="#c9ad98" stroke="#c9ad98" stroke-width="0.3" shape-rendering="auto" style="font-family:'Liberation Sans',sans-serif">FX678</text>
<text x="1335" y="1355.2" font-size="30.5" letter-spacing="2" fill="#dceafa" stroke="#dceafa" stroke-width="0.4" shape-rendering="auto" style="font-family:'Liberation Sans',sans-serif">FX678</text>
</svg>
</body>
</html>
